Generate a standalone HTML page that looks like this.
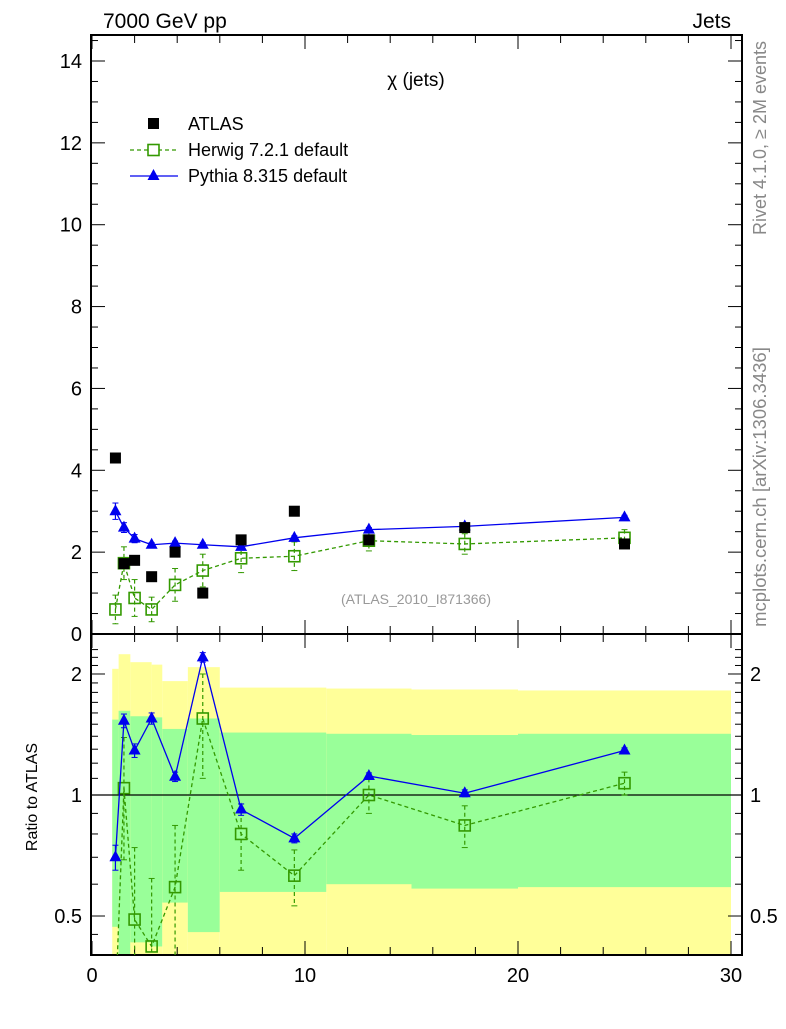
<!DOCTYPE html>
<html><head><meta charset="utf-8"><style>
body{margin:0;background:#fff;width:786px;height:1024px;overflow:hidden}
svg{font-family:"Liberation Sans",sans-serif}
</style></head><body>
<svg id="c" width="786" height="1024" xmlns="http://www.w3.org/2000/svg"></svg>
<script>
const xs = [1.1,1.5,2.0,2.8,3.9,5.2,7.0,9.5,13,17.5,25];
const atlasVals = [4.3,1.72,1.8,1.4,2.0,1.0,2.3,3.0,2.3,2.6,2.2];
const pythiaVals = [3.0,2.6,2.33,2.18,2.22,2.18,2.13,2.35,2.55,2.63,2.85];
const pythiaErr = [0.2,0.12,0.1,0.05,0.05,0.05,0.05,0.05,0.05,0.05,0.05];
const herwigVals = [0.6,1.73,0.88,0.6,1.2,1.55,1.85,1.9,2.28,2.2,2.35];
const herwigErr = [0.35,0.4,0.45,0.3,0.4,0.4,0.35,0.35,0.25,0.25,0.2];
const pythiaRatio = [0.70,1.53,1.29,1.55,1.11,2.2,0.92,0.78,1.115,1.01,1.29];
const pythiaRatioErr = [0.05,0.06,0.05,0.05,0.03,0.06,0.03,0.02,0.02,0.02,0.02];
const herwigRatio = [0.14,1.04,0.49,0.42,0.59,1.55,0.80,0.63,1.0,0.84,1.07];
const herwigRatioErr = [0.1,0.35,0.25,0.2,0.25,0.45,0.15,0.1,0.1,0.1,0.07];
const bandEdges = [0.95,1.25,1.8,2.8,3.3,4.5,6,11,15,20,30];
const yellowHi = [2.06,2.24,2.14,2.11,1.92,2.08,1.85,1.84,1.83,1.82];
const yellowLo = [0.3,0.3,0.3,0.3,0.3,0.3,0.3,0.3,0.3,0.3];
const greenHi = [1.54,1.62,1.57,1.56,1.46,1.55,1.43,1.42,1.41,1.42];
const greenLo = [0.47,0.3,0.43,0.42,0.54,0.456,0.574,0.60,0.585,0.59];
const xTicks = [0,10,20,30];
const yTicks = [0,2,4,6,8,10,12,14];
const rTicks = [0.5,1,2];

const L=91,R=742,T=35,M=634,B=955;
const X=v=>L+1+v*(731-92)/30;
const Y=v=>634-v*(634-61)/14;
const RY=v=>795-402*Math.log10(v);
const svg=document.getElementById('c');
const NS='http://www.w3.org/2000/svg';
function el(tag,attrs,parent){const e=document.createElementNS(NS,tag);for(const k in attrs)e.setAttribute(k,attrs[k]);(parent||svg).appendChild(e);return e;}
function txt(s,attrs,parent){const e=el('text',attrs,parent);e.textContent=s;return e;}

const bands=el('g',{});


const clip=el('clipPath',{id:'lc'});el('rect',{x:L,y:M,width:R-L,height:B-M},clip);
bands.setAttribute('clip-path','url(#lc)');
for(let i=0;i<bandEdges.length-1;i++){
  const x0=X(bandEdges[i]),x1=X(bandEdges[i+1]);
  const y=el('rect',{x:x0,y:RY(yellowHi[i]),width:x1-x0,height:RY(yellowLo[i])-RY(yellowHi[i]),fill:'#ffff99'},bands);
  
  
  const g=el('rect',{x:x0,y:RY(greenHi[i]),width:x1-x0,height:RY(greenLo[i])-RY(greenHi[i]),fill:'#99ff99'},bands);
  
  
}
el('line',{x1:L,x2:R,y1:RY(1),y2:RY(1),stroke:'#000','stroke-width':1.2});

for(const [y0,y1] of [[T,M],[M,B]]){
  el('rect',{x:L,y:y0,width:R-L,height:y1-y0,fill:'none',stroke:'#000','stroke-width':2});
}
for(let v=0;v<=30;v+=1){
  const major=v%10===0, mid=v%2===0;
  const len=major?14:(mid?8:5);
  const px=X(v);
  for(const [yb,d] of [[T,1],[M,-1],[M,1],[B,-1]]){
    if(major||mid) el('line',{x1:px,x2:px,y1:yb,y2:yb+d*len,stroke:'#000','stroke-width':1});
  }
}
xTicks.forEach(v=>{const t=txt(String(v),{x:X(v),y:982,'font-size':20,'text-anchor':'middle'});
});
for(let v=0;v<=14.5;v+=0.5){
  const major=v%2===0;const len=major?14:7;
  el('line',{x1:L,x2:L+len,y1:Y(v),y2:Y(v),stroke:'#000'});
  el('line',{x1:R,x2:R-len,y1:Y(v),y2:Y(v),stroke:'#000'});
}
yTicks.forEach(v=>{const t=txt(String(v),{x:82,y:Y(v)+7,'font-size':20,'text-anchor':'end'});
});
const rmin=[0.4,0.45,0.5,0.6,0.7,0.8,0.9,1,1.1,1.2,1.3,1.4,1.5,1.6,1.7,1.8,1.9,2,2.1,2.2,2.3];
rmin.forEach(v=>{const major=rTicks.includes(v);const len=major?14:7;const py=RY(v);
 if(py<M||py>B)return;
 el('line',{x1:L,x2:L+len,y1:py,y2:py,stroke:'#000'});el('line',{x1:R,x2:R-len,y1:py,y2:py,stroke:'#000'});});
rTicks.forEach(v=>{
 const a=txt(String(v),{x:82,y:RY(v)+7,'font-size':20,'text-anchor':'end'});
 
 const b=txt(String(v),{x:750,y:RY(v)+7,'font-size':20});
 
});

function series(vals,err,yf,color,dash,marker,name,minV){
  const g=el('g',{});
  
  
  const pts=xs.map((x,i)=>[X(x),yf(Math.max(vals[i],minV||1e-9))]);
  el('polyline',{points:pts.map(p=>p.join(',')).join(' '),fill:'none',stroke:color,'stroke-width':1.3,'stroke-dasharray':dash||''},g);
  xs.forEach((x,i)=>{
    const px=X(x);
    if(err){const y1=yf(Math.max(vals[i]+err[i],minV||1e-9)),y2=yf(Math.max(vals[i]-err[i],minV||1e-9));
      el('line',{x1:px,x2:px,y1:y1,y2:y2,stroke:color,'stroke-width':1.2,'stroke-dasharray':dash||''},g);
      el('line',{x1:px-3,x2:px+3,y1:y1,y2:y1,stroke:color},g);el('line',{x1:px-3,x2:px+3,y1:y2,y2:y2,stroke:color},g);}
    const py=yf(Math.max(vals[i],minV||1e-9));
    let m;
    if(marker==='sq') m=el('rect',{x:px-5.5,y:py-5.5,width:11,height:11,fill:'#000'},g);
    else if(marker==='open') m=el('rect',{x:px-5.5,y:py-5.5,width:11,height:11,fill:'none',stroke:color,'stroke-width':1.6},g);
    else m=el('polygon',{points:`${px},${py-7} ${px-6},${py+4} ${px+6},${py+4}`,fill:color},g);
    
    
  });
}
series(herwigVals,herwigErr,Y,'#339900','4,3','open','herwig-series',0);
series(pythiaVals,pythiaErr,Y,'#0000ee','','tri','pythia-series',0);
const ag=el('g',{});
xs.forEach((x,i)=>{const m=el('rect',{x:X(x)-5.5,y:Y(atlasVals[i])-5.5,width:11,height:11,fill:'#000'},ag);
});
series(herwigRatio,herwigRatioErr,RY,'#339900','4,3','open','herwig-ratio',0.3);
series(pythiaRatio,pythiaRatioErr,RY,'#0000ee','','tri','pythia-ratio',0.3);
svg.lastChild.setAttribute('clip-path','url(#lc)');svg.lastChild.previousSibling.setAttribute('clip-path','url(#lc)');

function label(s,attrs,name){const t=txt(s,attrs);return t;}
label('7000 GeV pp',{x:103,y:28,'font-size':21},'energy-label');
label('Jets',{x:731,y:28,'font-size':21,'text-anchor':'end'},'process-label');
label('χ (jets)',{x:416,y:86,'font-size':19,'text-anchor':'middle'},'plot-title');
label('(ATLAS_2010_I871366)',{x:416,y:604,'font-size':14,fill:'#999','text-anchor':'middle'},'analysis-id');
label('Ratio to ATLAS',{x:0,y:0,'font-size':16,'text-anchor':'middle',transform:'translate(37,797) rotate(-90)'},'ratio-axis-title');
label('Rivet 4.1.0, ≥ 2M events',{x:0,y:0,'font-size':18,fill:'#888','text-anchor':'middle',transform:'translate(766,138) rotate(-90)'},'rivet-label');
label('mcplots.cern.ch [arXiv:1306.3436]',{x:0,y:0,'font-size':18.5,fill:'#888','text-anchor':'middle',transform:'translate(766,487) rotate(-90)'},'mcplots-label');
const lg=el('g',{});
el('rect',{x:148,y:118,width:11,height:11,fill:'#000'},lg);
txt('ATLAS',{x:188,y:130,'font-size':18},lg);
el('line',{x1:130,x2:178,y1:150,y2:150,stroke:'#339900','stroke-dasharray':'4,3','stroke-width':1.3},lg);
el('rect',{x:148,y:144.5,width:11,height:11,fill:'#fff',stroke:'#339900','stroke-width':1.6},lg);
txt('Herwig 7.2.1 default',{x:188,y:156,'font-size':18},lg);
el('line',{x1:130,x2:178,y1:176,y2:176,stroke:'#0000ee','stroke-width':1.3},lg);
el('polygon',{points:'153.5,169 147.5,180 159.5,180',fill:'#0000ee'},lg);
txt('Pythia 8.315 default',{x:188,y:182,'font-size':18},lg);
</script>
</body></html>
